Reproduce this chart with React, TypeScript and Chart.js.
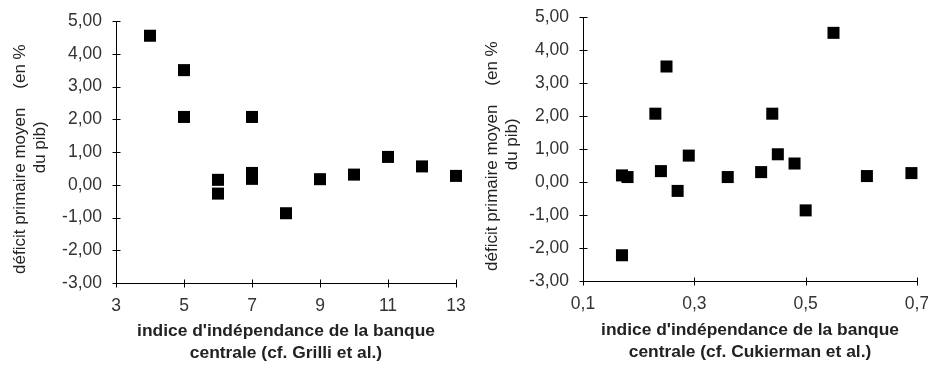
import React, { useEffect, useRef } from 'react';
import { Chart, registerables } from 'chart.js';

Chart.register(...registerables);
Chart.defaults.font.family = "'Liberation Sans', Arial, sans-serif";

// ---- Data ----
const grilliIndex = [4, 5, 5, 6, 6, 7, 7, 7, 8, 9, 10, 11, 12, 13];
const grilliDeficit = [4.55, 3.5, 2.07, 0.15, -0.27, 2.07, 0.36, 0.18, -0.87, 0.17, 0.31, 0.85, 0.56, 0.27];

const cukiermanIndex = [0.17, 0.18, 0.17, 0.23, 0.25, 0.24, 0.27, 0.29, 0.36, 0.42, 0.44, 0.45, 0.48, 0.5, 0.55, 0.61, 0.69];
const cukiermanDeficit = [0.2, 0.15, -2.22, 2.07, 3.5, 0.33, -0.27, 0.8, 0.15, 0.3, 2.07, 0.84, 0.56, -0.86, 4.52, 0.18, 0.27];

const yTickLabels = ['-3,00', '-2,00', '-1,00', '0,00', '1,00', '2,00', '3,00', '4,00', '5,00'];
const grilliTickLabels = ['3', '5', '7', '9', '11', '13'];
const cukiermanTickLabels = ['0,1', '0,3', '0,5', '0,7'];

const yTitle = ['déficit primaire moyen    (en %   ', '  du pib)'];
const grilliTitle = ["indice d'indépendance de la banque", 'centrale (cf. Grilli et al.)'];
const cukiermanTitle = ["indice d'indépendance de la banque", 'centrale (cf. Cukierman et al.)'];

const crossTicks = {
  id: 'crossTicks',
  afterDraw(chart: any) {
    const { ctx, chartArea, scales } = chart;
    const xs = scales.x;
    const ys = scales.y;
    const left = Math.round(chartArea.left) + 0.5;
    const bottom = Math.round(chartArea.bottom) + 0.5;
    ctx.save();
    ctx.strokeStyle = '#000';
    ctx.lineWidth = 1;
    ctx.beginPath();
    ys.ticks.forEach((t: any) => {
      const p = Math.round(ys.getPixelForValue(t.value)) + 0.5;
      ctx.moveTo(left - 4, p);
      ctx.lineTo(left + 4, p);
    });
    xs.ticks.forEach((t: any) => {
      const p = Math.round(xs.getPixelForValue(t.value)) + 0.5;
      ctx.moveTo(p, bottom - 4);
      ctx.lineTo(p, bottom + 4);
    });
    ctx.stroke();
    ctx.restore();
  },
};

type PanelProps = {
  left: number;
  width: number;
  xs: number[];
  ys: number[];
  xMin: number;
  xMax: number;
  xStep: number;
  xLabels: string[];
  xTitle: string[];
  areaLeft: number;
  areaRight: number;
  areaTop: number;
  areaBottom: number;
  titleBottomPad: number;
  yTitlePad: number;
};

function Panel(p: PanelProps) {
  const ref = useRef<HTMLCanvasElement>(null);
  const H = 372;
  useEffect(() => {
    const chart = new Chart(ref.current as HTMLCanvasElement, {
      type: 'scatter',
      data: {
        datasets: [
          {
            data: p.xs.map((x, i) => ({ x, y: p.ys[i] })),
            pointStyle: 'rect',
            pointRadius: 8.5,
            pointHoverRadius: 8.5,
            backgroundColor: '#000',
            borderColor: '#000',
            borderWidth: 0,
            clip: false,
          },
        ],
      },
      options: {
        responsive: false,
        animation: false,
        events: [],
        layout: { padding: { left: 0, top: p.areaTop, right: p.width - p.areaRight, bottom: 0 } },
        plugins: { legend: { display: false }, tooltip: { enabled: false } },
        scales: {
          x: {
            type: 'linear',
            min: p.xMin,
            max: p.xMax,
            ticks: {
              stepSize: p.xStep,
              autoSkip: false,
              maxRotation: 0,
              padding: 13,
              color: '#333',
              font: { size: 17.5 },
              callback: (_v: any, i: number) => p.xLabels[i],
            },
            grid: { display: false, drawTicks: false },
            border: { display: true, color: '#000', width: 1 },
            title: {
              display: true,
              text: p.xTitle,
              color: '#222',
              font: { size: 17.4, weight: 'bold', lineHeight: 1.27 },
              padding: { top: 0, bottom: p.titleBottomPad },
            },
            afterFit: (s: any) => {
              s.height = H - p.areaBottom;
              s.paddingLeft = 0;
              s.paddingRight = 0;
            },
          },
          y: {
            type: 'linear',
            min: -3,
            max: 5,
            ticks: {
              stepSize: 1,
              autoSkip: false,
              padding: 14,
              color: '#333',
              font: { size: 17.5 },
              callback: (_v: any, i: number) => yTickLabels[i],
            },
            grid: { display: false, drawTicks: false },
            border: { display: true, color: '#000', width: 1 },
            title: {
              display: true,
              text: yTitle,
              color: '#222',
              font: { size: 17, lineHeight: 1.2 },
              padding: { top: p.yTitlePad, bottom: 0 },
            },
            afterFit: (s: any) => {
              s.width = p.areaLeft;
              s.paddingTop = 0;
              s.paddingBottom = 0;
            },
          },
        },
      },
      plugins: [crossTicks],
    } as any);
    return () => chart.destroy();
  }, []);
  return (
    <canvas
      ref={ref}
      width={p.width}
      height={H}
      style={{ position: 'absolute', left: p.left, top: 0, width: p.width, height: H }}
    />
  );
}

export default function App() {
  return (
    <div style={{ position: 'fixed', left: 0, top: 0, width: 928, height: 372, background: '#fff', overflow: 'hidden' }}>
      <Panel
        left={0}
        width={465}
        xs={grilliIndex}
        ys={grilliDeficit}
        xMin={3}
        xMax={13}
        xStep={2}
        xLabels={grilliTickLabels}
        xTitle={grilliTitle}
        areaLeft={116}
        areaRight={456}
        areaTop={21}
        areaBottom={283}
        titleBottomPad={8}
        yTitlePad={10}
      />
      <Panel
        left={465}
        width={463}
        xs={cukiermanIndex}
        ys={cukiermanDeficit}
        xMin={0.1}
        xMax={0.7}
        xStep={0.2}
        xLabels={cukiermanTickLabels}
        xTitle={cukiermanTitle}
        areaLeft={118}
        areaRight={452}
        areaTop={17}
        areaBottom={281}
        titleBottomPad={9}
        yTitlePad={17}
      />
    </div>
  );
}
